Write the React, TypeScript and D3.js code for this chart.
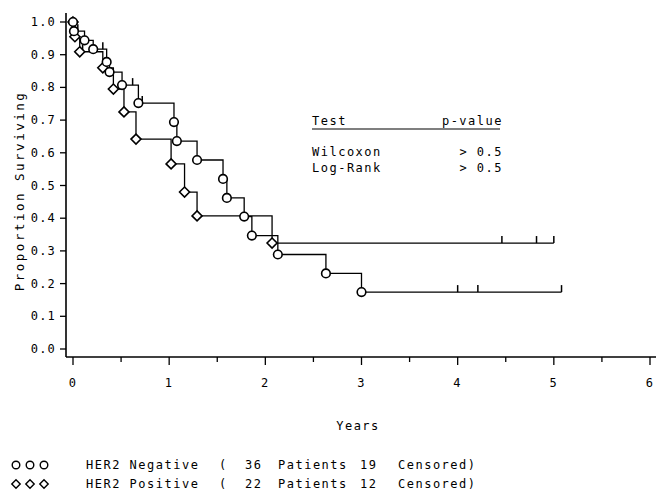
import React from "react";
import * as d3 from "d3";

const xTicks = [0, 1, 2, 3, 4, 5, 6];
const xMinorTicks = [0.5, 1.5, 2.5, 3.5, 4.5, 5.5];
const yTicks = [0, 0.1, 0.2, 0.3, 0.4, 0.5, 0.6, 0.7, 0.8, 0.9, 1.0];

// HER2 Negative (circles)
const negTimes = [0, 0.01, 0.12, 0.21, 0.35, 0.38, 0.51, 0.68, 1.05, 1.08, 1.29, 1.56, 1.6, 1.78, 1.86, 2.13, 2.63, 3.0];
const negSurv = [1, 0.972, 0.944, 0.917, 0.878, 0.847, 0.807, 0.752, 0.694, 0.636, 0.578, 0.52, 0.462, 0.405, 0.347, 0.289, 0.231, 0.174];
const negEnd = 5.08;
const negCensor = [0.05, 0.31, 0.62, 0.72, 4.0, 4.21, 5.08];

// HER2 Positive (diamonds)
const posTimes = [0, 0.02, 0.07, 0.31, 0.42, 0.53, 0.655, 1.02, 1.16, 1.29, 2.07];
const posSurv = [1, 0.955, 0.909, 0.86, 0.795, 0.725, 0.642, 0.566, 0.48, 0.407, 0.324];
const posEnd = 5.0;
const posCensor = [0.04, 0.1, 4.46, 4.82, 5.0];

const testRows = [
  { test: "Wilcoxon", p: "> 0.5" },
  { test: "Log-Rank", p: "> 0.5" },
];
const legendRows = [
  { symbol: "circle", name: "HER2 Negative", patients: "36", censored: "19" },
  { symbol: "diamond", name: "HER2 Positive", patients: "22", censored: "12" },
];

const FONT = "'DejaVu Sans Mono', monospace";

function survAt(times: number[], surv: number[], t: number) {
  let s = surv[0];
  for (let i = 0; i < times.length; i++) if (times[i] <= t) s = surv[i];
  return s;
}

function Diamond({ cx, cy, r, sw = 1.6 }: { cx: number; cy: number; r: number; sw?: number }) {
  return (
    <path
      d={`M${cx},${cy - r}L${cx + r},${cy}L${cx},${cy + r}L${cx - r},${cy}Z`}
      fill="white"
      stroke="black"
      strokeWidth={sw}
    />
  );
}

export default function App() {
  const x = d3.scaleLinear().domain([0, 6]).range([73, 650]);
  const y = d3.scaleLinear().domain([0, 1]).range([349, 22]);
  const axisY = 357;
  const axisX = 66;

  const step = d3
    .line<[number, number]>()
    .x((d) => x(d[0]))
    .y((d) => y(d[1]))
    .curve(d3.curveStepAfter);

  const negPts: [number, number][] = negTimes.map((t, i) => [t, negSurv[i]]);
  negPts.push([negEnd, negSurv[negSurv.length - 1]]);
  const posPts: [number, number][] = posTimes.map((t, i) => [t, posSurv[i]]);
  posPts.push([posEnd, posSurv[posSurv.length - 1]]);

  const textStyle = { fontFamily: FONT, fontSize: 12, letterSpacing: 1.5 } as const;

  return (
    <svg
      width={663}
      height={492}
      style={{ position: "absolute", left: 0, top: 0, display: "block" }}
    >
      <rect x={0} y={0} width={663} height={492} fill="white" />
      {/* axes */}
      <line x1={axisX} x2={axisX} y1={13} y2={axisY} stroke="black" strokeWidth={1.6} />
      <line x1={axisX} x2={656} y1={axisY} y2={axisY} stroke="black" strokeWidth={1.6} />
      {yTicks.map((v) => (
        <g key={"yt" + v}>
          <line x1={axisX - 6} x2={axisX} y1={y(v)} y2={y(v)} stroke="black" strokeWidth={1.3} />
          <text x={axisX - 10} y={y(v) + 4} textAnchor="end" style={{ ...textStyle, letterSpacing: 1.2 }}>
            {v.toFixed(1)}
          </text>
        </g>
      ))}
      {xTicks.map((v) => (
        <g key={"xt" + v}>
          <line x1={x(v)} x2={x(v)} y1={axisY} y2={axisY + 8} stroke="black" strokeWidth={1.3} />
          <text x={x(v)} y={axisY + 30} textAnchor="middle" style={textStyle}>
            {v}
          </text>
        </g>
      ))}
      {xMinorTicks.map((v) => (
        <line key={"xm" + v} x1={x(v)} x2={x(v)} y1={axisY} y2={axisY + 5} stroke="black" strokeWidth={1.3} />
      ))}
      <text
        transform={`translate(24,${191}) rotate(-90)`}
        textAnchor="middle"
        style={{ ...textStyle, fontSize: 12.5, letterSpacing: 2.5 }}
      >
        Proportion Surviving
      </text>
      <text x={358} y={430} textAnchor="middle" style={textStyle}>
        Years
      </text>

      {/* curves */}
      <path d={step(negPts) || ""} fill="none" stroke="black" strokeWidth={1.3} />
      <path d={step(posPts) || ""} fill="none" stroke="black" strokeWidth={1.3} />

      {/* censor ticks */}
      {negCensor.map((t, i) => (
        <line key={"nc" + i} x1={x(t)} x2={x(t)} y1={y(survAt(negTimes, negSurv, t))} y2={y(survAt(negTimes, negSurv, t)) - 7} stroke="black" strokeWidth={1.5} />
      ))}
      {posCensor.map((t, i) => (
        <line key={"pc" + i} x1={x(t)} x2={x(t)} y1={y(survAt(posTimes, posSurv, t))} y2={y(survAt(posTimes, posSurv, t)) - 7} stroke="black" strokeWidth={1.5} />
      ))}

      {/* markers */}
      {posTimes.map((t, i) => (
        <Diamond key={"pd" + i} cx={x(t)} cy={y(posSurv[i])} r={5} />
      ))}
      {negTimes.map((t, i) => (
        <circle key={"nm" + i} cx={x(t)} cy={y(negSurv[i])} r={4.3} fill="white" stroke="black" strokeWidth={1.6} />
      ))}

      {/* test table */}
      <text x={312} y={125} style={textStyle}>Test</text>
      <text x={503} y={125} textAnchor="end" style={textStyle}>p-value</text>
      <line x1={312} x2={500} y1={129} y2={129} stroke="black" strokeWidth={1.2} />
      {testRows.map((r, i) => (
        <g key={"tr" + i}>
          <text x={312} y={156 + i * 16} style={textStyle}>{r.test}</text>
          <text x={503} y={156 + i * 16} textAnchor="end" style={textStyle}>{r.p}</text>
        </g>
      ))}

      {/* legend */}
      {legendRows.map((r, i) => {
        const cy = 465 + i * 19;
        return (
          <g key={"lg" + i}>
            {[0, 1, 2].map((k) =>
              r.symbol === "circle" ? (
                <circle key={k} cx={16 + k * 14} cy={cy} r={3.8} fill="white" stroke="black" strokeWidth={1.4} />
              ) : (
                <Diamond key={k} cx={16 + k * 14} cy={cy} r={4.2} sw={1.4} />
              )
            )}
            <text x={86} y={cy + 4} style={textStyle}>{r.name}</text>
            <text x={219} y={cy + 4} style={textStyle}>(</text>
            <text x={245} y={cy + 4} style={textStyle}>{r.patients}</text>
            <text x={278} y={cy + 4} style={textStyle}>Patients</text>
            <text x={360} y={cy + 4} style={textStyle}>{r.censored}</text>
            <text x={398} y={cy + 4} style={textStyle}>Censored)</text>
          </g>
        );
      })}
    </svg>
  );
}
